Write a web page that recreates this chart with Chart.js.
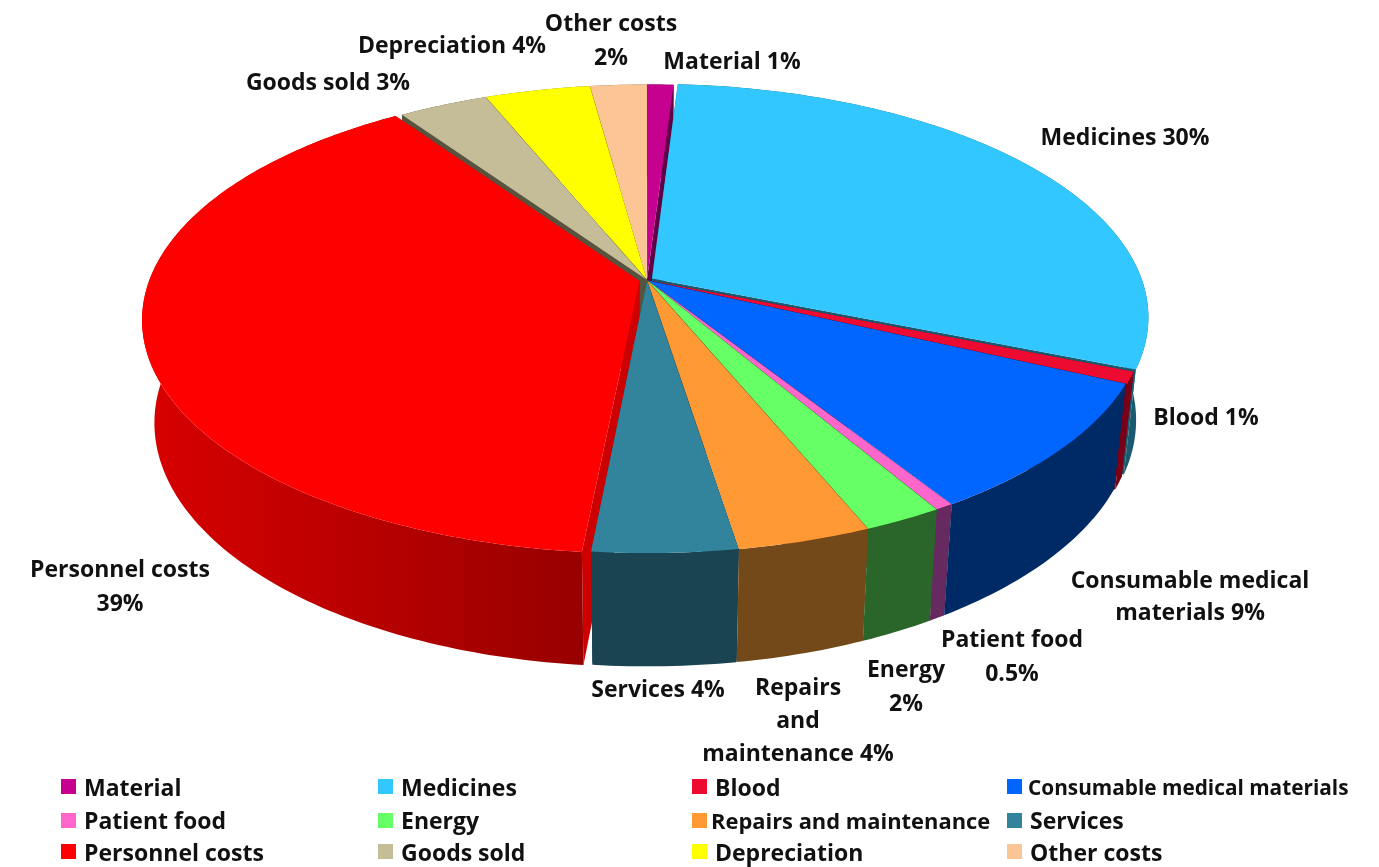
<!DOCTYPE html>
<html>
<head>
<meta charset="utf-8">
<title>Hospital costs</title>
<script src="https://cdn.jsdelivr.net/npm/chart.js@4/dist/chart.umd.min.js"></script>
<style>
    body { margin: 0; background: #fff; }
    #wrap { position: relative; width: 1379px; height: 867px; overflow: hidden; }
    canvas { display: block; }
    #legend {
        position: absolute; left: 61px; top: 769px;
        display: grid;
        grid-template-columns: 317px 314px 315px 340px;
        grid-template-rows: 35px 32px 31px;
        font: 700 23px "Open Sans", sans-serif;
        color: #111;
    }
    #legend div { display: flex; align-items: center; white-space: nowrap; }
    #legend i { display: block; width: 15px; height: 15px; margin-right: 8px; flex: none; }
    #legend div:nth-child(4) { font-size: 20.8px; }
    #legend div:nth-child(4) i { margin-right: 6px; }
    #legend div:nth-child(7) { font-size: 21.9px; }
    #legend div:nth-child(7) i { margin-right: 4px; }
</style>
</head>
<body>
<div id="wrap">
    <canvas id="costChart" width="1379" height="867"></canvas>
    <div id="legend"></div>
</div>
<script>
const categories = ["Material", "Medicines", "Blood", "Consumable medical materials", "Patient food", "Energy",
    "Repairs and maintenance", "Services", "Personnel costs", "Goods sold", "Depreciation", "Other costs"];
const costShares = [1, 30, 0.8, 9.07, 0.5, 2.2, 3.71, 4, 38.7, 3.4, 4, 2.15];
const sliceOffsets = [0.3, 1.2, 0.5, 0.3, 0.3, 0.3, 0.3, 0.3, 1.6, 0.3, 0.3, 0.3];

const topColors = ["#c6008f", "#33c7ff", "#ee0b32", "#0066ff", "#ff66cc", "#66ff66",
    "#ff9933", "#31849b", "#ff0000", "#c4bd97", "#ffff00", "#fcc596"];
const wallColors = ["#600046", "#1a5a70", "#7a0018", "#002a66", "#662a60", "#2a6629",
    "#74491a", "#1a4452", "#cc0000", "#57533f", "#7a7a00", "#7d6048"];

// label text, split in lines, with the place each one is written
const sliceLabels = [
    ["Material 1%"], ["Medicines 30%"], ["Blood 1%"], ["Consumable medical", "materials 9%"],
    ["Patient food", "0.5%"], ["Energy", "2%"], ["Repairs", "and", "maintenance 4%"], ["Services 4%"],
    ["Personnel costs", "39%"], ["Goods sold 3%"], ["Depreciation 4%"], ["Other costs", "2%"]
];
const labelCentersX = [732, 1125, 1206, 1190, 1012, 906, 798, 658, 120, 328, 452, 611];
const labelCentersY = [62, 138, 418, 581, 640, 670, 688, 690, 570, 83, 46, 24];
const labelLineGaps = [0, 0, 0, 32, 34, 34, 33, 0, 34, 0, 0, 34];

// perspective of the disc: top face and bottom face
const tilt = 0.165;
const topFace = { x: 647, a: 490, b: 227.2, y: 280 };
const bottomFace = { x: 647, a: 478, b: 237.4, y: 381 };

const project = (face, u, v) => {
    const w = 1 - tilt * v;
    return [face.x + face.a * u / w, face.y + face.b * v / w];
};

// unit circle point on the rim of an arc element, pushed out by its offset
const rimPoints = (arc, radius) => {
    const mid = (arc.startAngle + arc.endAngle) / 2;
    const push = (arc.options.offset || 0) / 100;
    const shiftU = Math.cos(mid) * push;
    const shiftV = Math.sin(mid) * push;
    const pts = [];
    const steps = Math.max(2, Math.ceil((arc.endAngle - arc.startAngle) * 60));
    for (let i = 0; i <= steps; i++) {
        const ang = arc.startAngle + (arc.endAngle - arc.startAngle) * i / steps;
        pts.push([shiftU + radius * Math.cos(ang), shiftV + radius * Math.sin(ang)]);
    }
    return { pts, apex: [shiftU, shiftV] };
};

const fillPath = (ctx, points, fill) => {
    ctx.beginPath();
    points.forEach((p, i) => i ? ctx.lineTo(p[0], p[1]) : ctx.moveTo(p[0], p[1]));
    ctx.closePath();
    ctx.fillStyle = fill;
    ctx.fill();
};

const drawSlice = (ctx, arc, index) => {
    const { pts, apex } = rimPoints(arc, 1);
    const top = pts.map(p => project(topFace, p[0], p[1]));
    const bottom = pts.map(p => project(bottomFace, p[0], p[1]));
    const apexTop = project(topFace, apex[0], apex[1]);
    const apexBottom = project(bottomFace, apex[0], apex[1]);
    const last = pts.length - 1;

    // cut faces
    fillPath(ctx, [apexTop, top[0], bottom[0], apexBottom], wallColors[index]);
    fillPath(ctx, [apexTop, top[last], bottom[last], apexBottom], wallColors[index]);

    // outer wall, the big red one runs darker to the right
    let wallFill = wallColors[index];
    if (categories[index] === "Personnel costs") {
        wallFill = ctx.createLinearGradient(145, 0, 590, 0);
        wallFill.addColorStop(0, "#d80000");
        wallFill.addColorStop(1, "#970000");
    }
    fillPath(ctx, top.concat(bottom.slice().reverse()), wallFill);

    // top face
    fillPath(ctx, [apexTop].concat(top), arc.options.backgroundColor);
};

const pie3dPlugin = {
    id: "pie3d",
    beforeDatasetsDraw(chart) {
        const ctx = chart.ctx;
        const arcs = chart.getDatasetMeta(0).data;
        const order = arcs.map((arc, i) => i)
            .sort((a, b) => Math.sin((arcs[a].startAngle + arcs[a].endAngle) / 2)
                - Math.sin((arcs[b].startAngle + arcs[b].endAngle) / 2));
        ctx.save();
        order.forEach(i => drawSlice(ctx, arcs[i], i));
        ctx.restore();
        return false;
    },
    afterDraw(chart) {
        const ctx = chart.ctx;
        ctx.save();
        ctx.font = '700 23px "Open Sans", sans-serif';
        ctx.fillStyle = "#111";
        ctx.textAlign = "center";
        ctx.textBaseline = "middle";
        sliceLabels.forEach((lines, i) => {
            lines.forEach((line, n) => {
                ctx.fillText(line, labelCentersX[i], labelCentersY[i] + n * labelLineGaps[i]);
            });
        });
        ctx.restore();
    }
};

const costChart = new Chart(document.getElementById("costChart"), {
    type: "pie",
    data: {
        labels: categories,
        datasets: [{
            data: costShares,
            backgroundColor: topColors,
            offset: sliceOffsets,
            borderWidth: 0
        }]
    },
    options: {
        responsive: false,
        animation: false,
        events: [],
        plugins: {
            legend: { display: false },
            tooltip: { enabled: false }
        }
    },
    plugins: [pie3dPlugin]
});

// legend squares and names come from the chart itself
const legendBox = document.getElementById("legend");
costChart.options.plugins.legend.labels.generateLabels(costChart).forEach(item => {
    const row = document.createElement("div");
    const swatch = document.createElement("i");
    swatch.style.background = item.fillStyle;
    row.appendChild(swatch);
    row.appendChild(document.createTextNode(item.text));
    legendBox.appendChild(row);
});
</script>
</body>
</html>
